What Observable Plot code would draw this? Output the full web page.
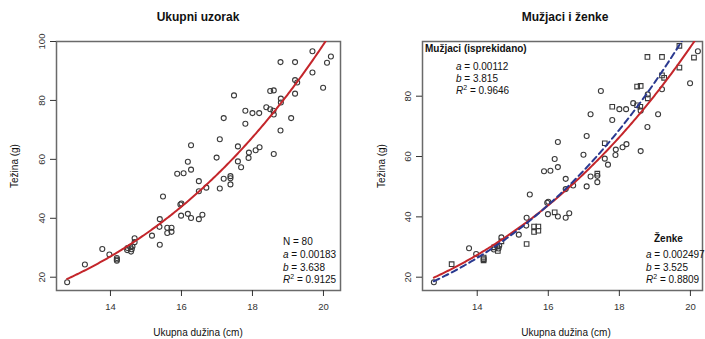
<!DOCTYPE html>
<html><head><meta charset="utf-8">
<script src="https://cdn.jsdelivr.net/npm/d3@7"></script>
<script src="https://cdn.jsdelivr.net/npm/@observablehq/plot@0.6"></script>
<style>
body{margin:0;background:#fff;font-family:"Liberation Sans",Arial,sans-serif;}
#wrap{position:relative;width:705px;height:339px;overflow:hidden;background:#fff}
.panel{position:absolute;top:0}
.t{position:absolute;white-space:nowrap;font-size:10px;color:#111;line-height:1;transform:translateY(-50%)}
.t sup{font-size:7px;vertical-align:4px;line-height:0}
.c{transform:translate(-50%,-50%)}
.b{font-weight:bold}
.title{font-size:12px}
.rot{transform:translate(-50%,-50%) rotate(-90deg)}
</style></head><body><div id="wrap"></div><script>
// ---- data ----
const lengthCm = [12.78,13.28,13.77,13.97,14.18,14.18,14.47,14.48,14.56,14.58,14.62,14.68,14.68,15.17,15.39,15.39,15.38,15.48,15.6,15.72,
  15.6,15.72,15.97,16.0,15.99,15.88,16.06,16.27,16.18,16.18,16.27,16.49,16.49,16.49,16.59,16.7,17.08,17.19,17.38,17.38,
  17.38,17.59,17.68,17.89,16.27,16.99,17.08,17.19,17.48,17.59,17.8,17.8,17.9,18.0,18.19,18.09,18.2,18.39,18.5,18.6,
  18.5,18.59,18.6,18.6,18.79,18.8,18.8,18.79,19.09,19.2,19.2,19.26,19.2,19.69,19.69,19.99,20.1,20.21,14.18,14.6];
const weightG = [18.3,24.3,29.6,27.7,26.5,25.6,29.2,29.9,30.2,28.7,30.4,31.9,33.2,34.1,39.7,31.0,37.1,47.4,36.8,36.8,
  35.0,35.4,44.7,45.0,40.9,55.1,55.3,56.5,59.2,41.5,40.1,52.6,49.2,39.7,41.2,50.4,50.1,53.4,54.3,53.6,
  51.5,59.3,57.3,60.5,64.8,60.6,66.8,74.0,81.7,64.4,76.5,72.1,62.3,75.7,75.7,63.1,64.1,77.7,83.2,83.4,
  77.0,76.5,75.2,61.8,93.0,80.6,79.3,69.8,74.0,93.0,86.9,86.1,82.3,96.7,89.5,84.3,92.8,94.9,26.0,29.5];
const sex = ["F","M","F","F","M","M","F","M","F","M","F","M","F","F","F","M","F","F","M","M",
  "M","M","F","F","F","F","F","F","F","M","F","F","F","F","F","F","F","F","M","F",
  "F","F","F","F","F","F","F","F","F","M","M","F","F","F","F","F","F","F","M","M",
  "M","M","F","F","M","F","M","F","F","M","M","M","F","M","M","F","M","F","M","F"];
const xTicks = [14,16,18,20];
const yTicksLeft = [20,40,60,80,100];
const yTicksRight = [20,40,60,80];
const fitAll = {a: 0.00183, b: 3.638};
const fitMale = {a: 0.00112, b: 3.815};
const fitFemale = {a: 0.002497, b: 3.525};

const fish = lengthCm.map((L, i) => ({L, W: weightG[i], sex: sex[i]}));
const curveL = d3.range(12.78, 20.6, 0.04);
const RED = "#c4262b", BLUE = "#2a3990";

function axes(yTicks) {
  return [
    Plot.frame({stroke: "#6a6a6a", strokeWidth: 1.5}),
    Plot.axisX({ticks: xTicks, tickSize: 6, tickPadding: 7, color: "#333", label: null, fontSize: 9.5}),
    Plot.axisY({ticks: yTicks, tickSize: 6, tickPadding: 6, tickRotate: -90, textAnchor: "middle", lineAnchor: "bottom", color: "#333", label: null, fontSize: 9.5})
  ];
}
const style = {fontFamily: "Liberation Sans, Arial, sans-serif", fontSize: "9.5px", background: "transparent", overflow: "visible"};

const left = Plot.plot({
  width: 352, height: 339, marginLeft: 56, marginRight: 12, marginTop: 41, marginBottom: 49,
  style,
  x: {domain: [12.48, 20.48]},
  y: {domain: [15.49, 100]},
  marks: [
    ...axes(yTicksLeft),
    Plot.dot(fish, {x: "L", y: "W", r: 2.5, stroke: "#3a3a3a", strokeWidth: 1.1, fill: "none"}),
    Plot.line(curveL, {x: d => d, y: d => fitAll.a * d ** fitAll.b, stroke: RED, strokeWidth: 2, clip: true})
  ]
});
const right = Plot.plot({
  width: 352, height: 339, marginLeft: 69, marginRight: 3, marginTop: 41, marginBottom: 49,
  style,
  x: {domain: [12.46, 20.34]},
  y: {domain: [15.59, 98.13]},
  marks: [
    ...axes(yTicksRight),
    Plot.dot(fish.filter(d => d.sex === "F"), {x: "L", y: "W", r: 2.5, symbol: "circle", stroke: "#3a3a3a", strokeWidth: 1.1, fill: "none"}),
    Plot.dot(fish.filter(d => d.sex === "M"), {x: "L", y: "W", r: 2.6, symbol: "square", stroke: "#3a3a3a", strokeWidth: 1.1, fill: "none"}),
    Plot.line(curveL, {x: d => d, y: d => fitFemale.a * d ** fitFemale.b, stroke: RED, strokeWidth: 2, clip: true}),
    Plot.line(curveL, {x: d => d, y: d => fitMale.a * d ** fitMale.b, stroke: BLUE, strokeWidth: 2, strokeDasharray: "6,4", clip: true})
  ]
});

const wrap = document.getElementById("wrap");
left.classList.add("panel"); left.style.left = "0px";
right.classList.add("panel"); right.style.left = "353px";
wrap.appendChild(left); wrap.appendChild(right);

function label(html, x, y, cls = "") {
  const d = document.createElement("div");
  d.className = "t " + cls;
  d.style.left = x + "px"; d.style.top = y + "px";
  d.innerHTML = html;
  wrap.appendChild(d);
}
// titles
label("Ukupni uzorak", 198, 17, "c b title");
label("Mužjaci i ženke", 565, 17, "c b title");
label("Ukupna dužina (cm)", 198, 333, "c");
label("Ukupna dužina (cm)", 566, 333, "c");
label("Težina (g)", 15, 166, "rot");
label("Težina (g)", 382, 166, "rot");
// left annotation
label("N = 80", 283, 242);
label(`<i>a</i> = ${fitAll.a}`, 283, 255);
label(`<i>b</i> = ${fitAll.b}`, 283, 267.5);
label(`<i>R</i><sup>2</sup> = 0.9125`, 283, 280);
// right annotations
label("Mužjaci (isprekidano)", 425, 49, "b");
label(`<i>a</i> = ${fitMale.a}`, 456, 66.5);
label(`<i>b</i> = ${fitMale.b}`, 456, 78.5);
label(`<i>R</i><sup>2</sup> = 0.9646`, 456, 91);
label("Ženke", 654, 239, "b");
label(`<i>a</i> = ${fitFemale.a}`, 646, 255);
label(`<i>b</i> = ${fitFemale.b}`, 646, 267.5);
label(`<i>R</i><sup>2</sup> = 0.8809`, 646, 280);
</script></body></html>
